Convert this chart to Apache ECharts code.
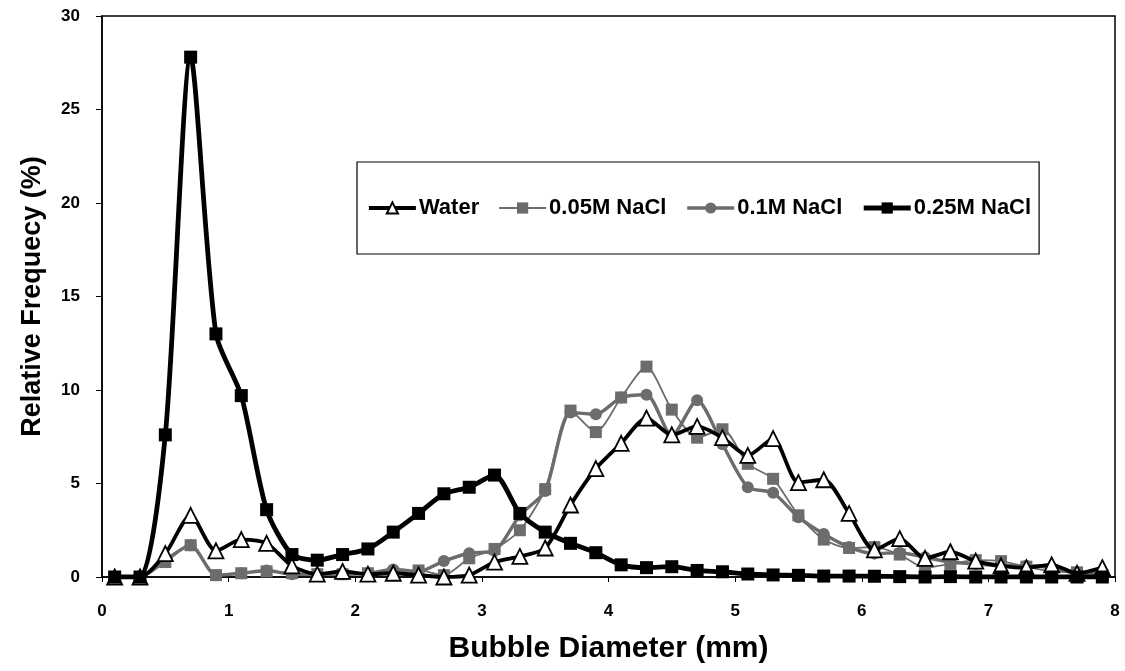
<!DOCTYPE html>
<html>
<head>
<meta charset="utf-8">
<script src="https://cdn.jsdelivr.net/npm/echarts@6/dist/echarts.min.js"></script>
<style>
  html, body { margin: 0; padding: 0; background: #fff; }
  #chart { width: 1125px; height: 671px; }
</style>
</head>
<body>
<div id="chart"></div>
<script>
// Bubble diameter bins (mm)
const diameters = [0.1,0.3,0.5,0.7,0.9,1.1,1.3,1.5,1.7,1.9,2.1,2.3,2.5,2.7,2.9,3.1,3.3,3.5,3.7,3.9,
                   4.1,4.3,4.5,4.7,4.9,5.1,5.3,5.5,5.7,5.9,6.1,6.3,6.5,6.7,6.9,7.1,7.3,7.5,7.7,7.9];

// Relative frequency (%) per bin
const water = [0,0,1.25,3.3,1.4,2.0,1.8,0.6,0.15,0.3,0.15,0.2,0.1,0,0.1,0.8,1.1,1.55,3.85,5.8,
               7.15,8.5,7.6,8.05,7.45,6.5,7.4,5.05,5.2,3.4,1.45,2.05,1.0,1.35,0.85,0.6,0.5,0.65,0.2,0.5];
const nacl005 = [0,0,0.8,1.7,0.1,0.2,0.3,0.2,0.15,0.15,0.2,0.2,0.35,0.1,1.0,1.5,2.5,4.7,8.9,7.75,
                 9.6,11.25,8.95,7.45,7.9,6.05,5.25,3.3,2.0,1.55,1.6,1.2,0.5,0.7,0.9,0.85,0.55,0.3,0.25,0.1];
const nacl01 = [0,0,0.9,1.7,0.1,0.2,0.35,0.15,0.15,0.15,0.2,0.4,0.3,0.85,1.27,1.4,3.3,4.6,8.8,8.7,
                9.6,9.75,7.55,9.45,7.1,4.8,4.5,3.2,2.3,1.6,1.25,1.3,1.05,0.8,0.7,0.6,0.6,0.5,0.2,0.2];
const nacl025 = [0,0,7.6,27.8,13.0,9.7,3.6,1.2,0.9,1.2,1.5,2.4,3.4,4.45,4.8,5.45,3.4,2.4,1.8,1.3,
                 0.65,0.5,0.55,0.35,0.28,0.16,0.11,0.09,0.05,0.05,0.04,0.02,0,0.02,0,0,0,0,0,0];

const seriesNames = ['Water', '0.05M NaCl', '0.1M NaCl', '0.25M NaCl'];
const xTicks = [0,1,2,3,4,5,6,7,8];
const yTicks = [0,5,10,15,20,25,30];

const FONT = '"Liberation Sans", Arial, sans-serif';
const GRAY = '#6c6c6c';

// per-series line widths, shared by the plot and the legend keys
const lineWidths = [3.8, 1.8, 3.4, 4.8];

function pairs(vals) { return diameters.map((d, i) => [d, vals[i]]); }

const chart = echarts.init(document.getElementById('chart'), null, { renderer: 'canvas' });

chart.setOption({
  animation: false,
  backgroundColor: '#fff',
  grid: {
    left: 102, right: 10, top: 16, bottom: 94,
    show: true, borderColor: '#000', borderWidth: 1.5, backgroundColor: 'transparent'
  },
  legend: {
    data: seriesNames.map((n, i) => ({ name: n, lineStyle: { width: lineWidths[i] } })),
    left: 357, top: 162,
    padding: [35, 8, 35, 10],
    itemGap: 19,
    itemWidth: 47, itemHeight: 14,
    borderColor: '#000', borderWidth: 1.2, borderRadius: 0,
    backgroundColor: '#fff',
    textStyle: { fontFamily: FONT, fontWeight: 'bold', fontSize: 22, color: '#000', padding: [0, 0, 0, -2] }
  },
  xAxis: {
    type: 'value', min: 0, max: 8, interval: 1,
    name: 'Bubble Diameter (mm)', nameLocation: 'middle', nameGap: 57,
    nameTextStyle: { fontFamily: FONT, fontWeight: 'bold', fontSize: 30, color: '#000' },
    axisLine: { show: true, lineStyle: { color: '#000', width: 1.5 } },
    axisTick: { show: true, inside: false, length: 5, lineStyle: { color: '#000' } },
    axisLabel: {
      fontFamily: FONT, fontWeight: 'bold', fontSize: 17, color: '#000', margin: 26,
      formatter: v => xTicks.includes(v) ? String(v) : ''
    },
    splitLine: { show: false }
  },
  yAxis: {
    type: 'value', min: 0, max: 30, interval: 5,
    name: 'Relative Frequecy (%)', nameLocation: 'middle', nameGap: 56,
    nameTextStyle: { fontFamily: FONT, fontWeight: 'bold', fontSize: 27, color: '#000' },
    axisLine: { show: true, lineStyle: { color: '#000', width: 1.5 } },
    axisTick: { show: true, inside: false, length: 6, lineStyle: { color: '#000' } },
    axisLabel: {
      fontFamily: FONT, fontWeight: 'bold', fontSize: 17, color: '#000', margin: 22,
      formatter: v => yTicks.includes(v) ? String(v) : ''
    },
    splitLine: { show: false }
  },
  series: [
    {
      name: 'Water', type: 'line', data: pairs(water), z: 4,
      smooth: 0.25,
      symbol: 'triangle', symbolSize: 15,
      lineStyle: { color: '#000', width: lineWidths[0] },
      itemStyle: { color: '#fff', borderColor: '#000', borderWidth: 1.8 }
    },
    {
      name: '0.05M NaCl', type: 'line', data: pairs(nacl005), z: 2,
      smooth: 0.25,
      symbol: 'rect', symbolSize: 12,
      lineStyle: { color: GRAY, width: lineWidths[1] },
      itemStyle: { color: GRAY, borderColor: GRAY, borderWidth: 0 }
    },
    {
      name: '0.1M NaCl', type: 'line', data: pairs(nacl01), z: 3,
      smooth: 0.25,
      symbol: 'circle', symbolSize: 12,
      lineStyle: { color: GRAY, width: lineWidths[2] },
      itemStyle: { color: GRAY, borderColor: GRAY, borderWidth: 0 }
    },
    {
      name: '0.25M NaCl', type: 'line', data: pairs(nacl025), z: 5,
      smooth: 0.25,
      symbol: 'rect', symbolSize: 13,
      lineStyle: { color: '#000', width: lineWidths[3] },
      itemStyle: { color: '#000', borderColor: '#000', borderWidth: 0 }
    }
  ]
});
</script>
</body>
</html>
